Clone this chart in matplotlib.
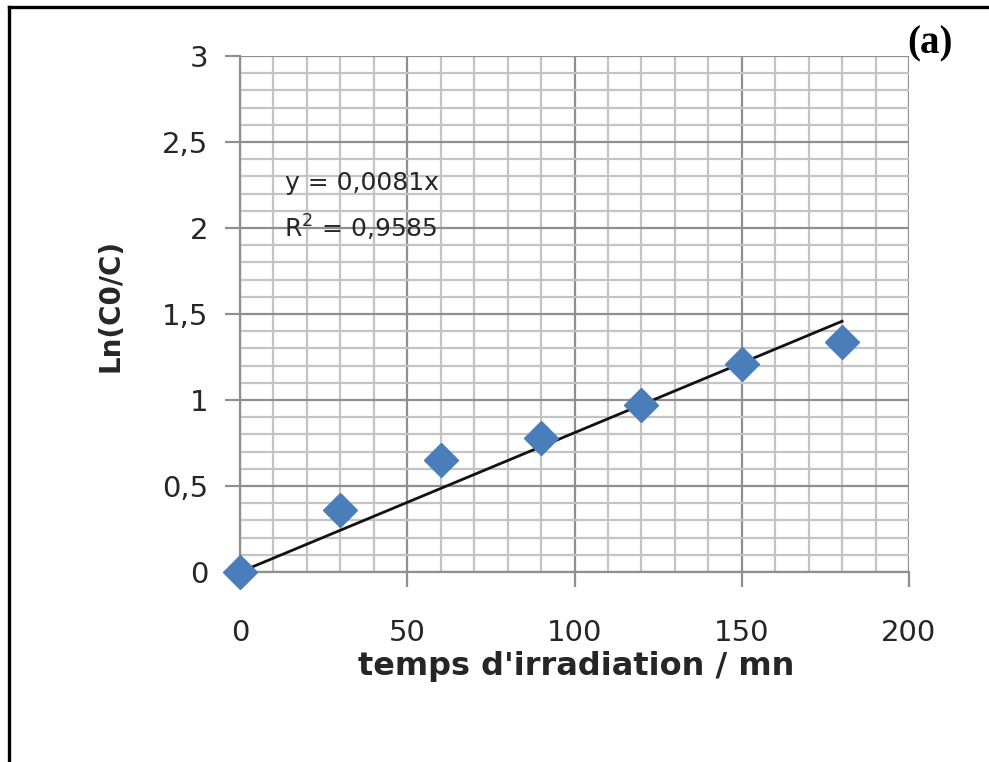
import matplotlib
matplotlib.use('Agg')
import matplotlib.pyplot as plt
from matplotlib.lines import Line2D
from matplotlib.ticker import MultipleLocator, FixedLocator, FixedFormatter

# Data
time_mn = [0, 30, 60, 90, 120, 150, 180]
ln_c0_c = [0.0, 0.36, 0.65, 0.78, 0.97, 1.21, 1.34]
slope = 0.0081  # trendline y = 0,0081x
trend_x = [0, 180]

x_ticks = [0, 50, 100, 150, 200]
x_tick_labels = ['0', '50', '100', '150', '200']
y_ticks = [0, 0.5, 1, 1.5, 2, 2.5, 3]
y_tick_labels = ['0', '0,5', '1', '1,5', '2', '2,5', '3']

plt.rcParams['font.family'] = ['DejaVu Sans']

fig = plt.figure(figsize=(9.89, 7.62), dpi=100)
ax = fig.add_axes([0.2427, 0.2493, 0.6764, 0.6772])

# Grid: light minor lines, darker major lines
ax.set_xlim(0, 200)
ax.set_ylim(0, 3)
ax.xaxis.set_major_locator(FixedLocator(x_ticks))
ax.xaxis.set_major_formatter(FixedFormatter(x_tick_labels))
ax.yaxis.set_major_locator(FixedLocator(y_ticks))
ax.yaxis.set_major_formatter(FixedFormatter(y_tick_labels))
ax.xaxis.set_minor_locator(MultipleLocator(10))
ax.yaxis.set_minor_locator(MultipleLocator(0.1))
ax.grid(which='minor', color='#c4c4c4', linewidth=1.6)
ax.grid(which='major', color='#8f8f8f', linewidth=1.6)
ax.set_axisbelow(True)

for side in ['top', 'right']:
    ax.spines[side].set_visible(False)
for side in ['left', 'bottom']:
    ax.spines[side].set_color('#8f8f8f')
    ax.spines[side].set_linewidth(1.6)

ax.tick_params(which='major', direction='out', length=11, width=1.6, color='#8f8f8f',
               labelsize=21, labelcolor='#262626')
ax.tick_params(axis='x', which='major', pad=23)
ax.tick_params(axis='y', which='major', pad=12)
ax.tick_params(which='minor', length=0)

# Trendline and data points
trend_y = [slope * x for x in trend_x]
ax.plot(trend_x, trend_y, color='#111111', linewidth=2.0, zorder=3)
ax.plot(time_mn, ln_c0_c, linestyle='none', marker='D', markersize=17,
        color='#4a7ebb', zorder=4, clip_on=False)

ax.text(13.5, 2.26, 'y = 0,0081x', fontsize=18, color='#262626', va='center')
ax.text(13.0, 2.0, 'R$^2$ = 0,9585', fontsize=18, color='#262626', va='center')

ax.set_xlabel("temps d'irradiation / mn", fontsize=23, fontweight='bold', color='#262626')
ax.xaxis.set_label_coords(0.502, -0.183)
ax.xaxis.label.set_va('center')
ax.set_ylabel('Ln(C0/C)', fontsize=20, fontweight='bold', color='#262626')
ax.yaxis.set_label_coords(-0.194, 0.517)
ax.yaxis.label.set_va('center')

fig.text(0.94, 0.942, '(a)', fontsize=28, fontweight='bold', family='Liberation Serif',
         ha='center', va='center')

# Frame around the panel (only left and top edges are visible)
fig.add_artist(Line2D([0.0095, 0.0095], [0, 0.9905], transform=fig.transFigure,
                      color='black', linewidth=2.4))
fig.add_artist(Line2D([0.0095, 1.0], [0.9905, 0.9905], transform=fig.transFigure,
                      color='black', linewidth=2.4))

fig.savefig('out.png', dpi=100)
